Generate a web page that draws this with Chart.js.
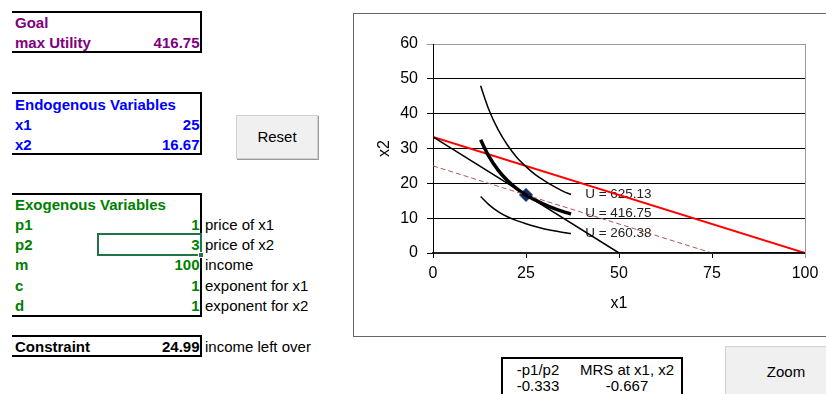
<!DOCTYPE html>
<html lang="en">
<head>
<meta charset="UTF-8">
<title>Utility Maximization</title>
<script src="https://cdn.jsdelivr.net/npm/chart.js"></script>
<style>
    body {
        margin: 0;
        width: 826px;
        height: 394px;
        overflow: hidden;
        position: relative;
        background: #ffffff;
        font-family: 'Liberation Sans', Arial, sans-serif;
    }

    .box {
        position: absolute;
        left: 12px;
        width: 190px;
        box-sizing: border-box;
        border-top: 2px solid #000;
        border-right: 2px solid #000;
        border-bottom: 2px solid #000;
    }

    .cell {
        position: absolute;
        height: 20px;
        line-height: 20px;
        font-size: 15px;
        white-space: nowrap;
    }

    .lbl { left: 15px; font-weight: bold; }
    .val { left: 12px; width: 187.5px; text-align: right; font-weight: bold; }
    .desc { left: 205px; color: #000; }

    .purple { color: #800080; }
    .blue { color: #0000ff; }
    .green { color: #008000; }
    .black { color: #000; }

    .selected {
        position: absolute;
        left: 97px;
        top: 233px;
        width: 105px;
        height: 23px;
        box-sizing: border-box;
        border: 2px solid #217346;
    }

    .handle {
        position: absolute;
        left: 198px;
        top: 252px;
        width: 6px;
        height: 6px;
        box-sizing: border-box;
        background: #217346;
        border: 1px solid #fff;
    }

    .button {
        position: absolute;
        box-sizing: border-box;
        background: #f0f0f0;
        border: 1px solid #d0d0d0;
        box-shadow: 1px 1px 0 #9a9a9a;
        text-align: center;
        font-size: 15px;
        color: #000;
    }

    .chart-frame {
        position: absolute;
        left: 353px;
        top: 13px;
        width: 490px;
        height: 324px;
        box-sizing: border-box;
        border: 1px solid #666;
    }

    #chart {
        position: absolute;
        left: 354px;
        top: 14px;
    }

    .mrs {
        position: absolute;
        left: 501px;
        top: 357px;
        width: 182px;
        height: 60px;
        box-sizing: border-box;
        border: 2px solid #000;
    }

    .mrs-cell {
        position: absolute;
        height: 18px;
        line-height: 18px;
        font-size: 15px;
        text-align: center;
        color: #000;
    }
</style>
</head>
<body>

    <!-- Goal -->
    <div class="box" style="top:11px; height:42px;"></div>
    <div class="cell lbl purple" style="top:13px;">Goal</div>
    <div class="cell lbl purple" style="top:33px;">max Utility</div>
    <div class="cell val purple" style="top:33px;">416.75</div>

    <!-- Endogenous -->
    <div class="box" style="top:92px; height:63px;"></div>
    <div class="cell lbl blue" style="top:95px;">Endogenous Variables</div>
    <div class="cell lbl blue" style="top:115px;">x1</div>
    <div class="cell val blue" style="top:115px;">25</div>
    <div class="cell lbl blue" style="top:135px;">x2</div>
    <div class="cell val blue" style="top:135px;">16.67</div>

    <div class="button" style="left:236px; top:115px; width:82px; height:44px; line-height:42px;">Reset</div>

    <!-- Exogenous -->
    <div class="box" style="top:193px; height:124px;"></div>
    <div class="selected"></div>
    <div class="cell lbl green" style="top:195px;">Exogenous Variables</div>
    <div class="cell lbl green" style="top:215px;">p1</div>
    <div class="cell val green" style="top:215px;">1</div>
    <div class="cell desc" style="top:215px;">price of x1</div>
    <div class="cell lbl green" style="top:235px;">p2</div>
    <div class="cell val green" style="top:235px;">3</div>
    <div class="cell desc" style="top:235px;">price of x2</div>
    <div class="cell lbl green" style="top:255px;">m</div>
    <div class="cell val green" style="top:255px;">100</div>
    <div class="cell desc" style="top:255px;">income</div>
    <div class="cell lbl green" style="top:276px;">c</div>
    <div class="cell val green" style="top:276px;">1</div>
    <div class="cell desc" style="top:276px;">exponent for x1</div>
    <div class="cell lbl green" style="top:296px;">d</div>
    <div class="cell val green" style="top:296px;">1</div>
    <div class="cell desc" style="top:296px;">exponent for x2</div>
    <div class="handle"></div>

    <!-- Constraint -->
    <div class="box" style="top:335px; height:22px;"></div>
    <div class="cell lbl black" style="top:337px;">Constraint</div>
    <div class="cell val black" style="top:337px;">24.99</div>
    <div class="cell desc" style="top:337px;">income left over</div>

    <!-- Chart -->
    <div class="chart-frame"></div>
    <canvas id="chart" width="472" height="321"></canvas>

    <!-- MRS -->
    <div class="mrs"></div>
    <div class="mrs-cell" style="left:503px; width:70px; top:361px;">-p1/p2</div>
    <div class="mrs-cell" style="left:573px; width:108px; top:361px;">MRS at x1, x2</div>
    <div class="mrs-cell" style="left:503px; width:70px; top:377px;">-0.333</div>
    <div class="mrs-cell" style="left:573px; width:108px; top:377px;">-0.667</div>

    <div class="button" style="left:725px; top:346px; width:122px; height:60px; line-height:49px;">Zoom</div>

<script>
    // Budget line p1*x1 + p2*x2 = m
    const budgetX = [0, 100];
    const budgetY = [33.33, 0];

    // Dashed parallel line through the optimum
    const dashX = [0, 75];
    const dashY = [25, 0];

    // Tangent (MRS) line
    const tangentX = [0, 50, 100];
    const tangentY = [33.33, 0, 0];

    // Indifference curves
    const curveX = [12.8, 15, 17.5, 20, 22.5, 25, 27.5, 30, 32.5, 35, 37.1];
    const upperY = [48.0, 41.2, 35.4, 31.0, 27.5, 24.8, 22.5, 20.7, 19.1, 17.7, 16.8];
    const optimalY = [32.5, 27.8, 23.8, 20.8, 18.5, 16.67, 15.2, 13.9, 12.8, 11.9, 11.2];
    const lowerY = [16.2, 13.9, 11.9, 10.4, 9.3, 8.4, 7.6, 6.9, 6.4, 5.9, 5.6];

    // Optimum bundle
    const optX = [25];
    const optY = [16.67];

    // Curve labels
    const curveLabels = ['U = 625.13', 'U = 416.75', 'U = 260.38'];
    const curveLabelX = [40.9, 40.9, 40.9];
    const curveLabelY = [16.9, 11.4, 5.7];

    const xTicks = [0, 25, 50, 75, 100];
    const yTicks = [0, 10, 20, 30, 40, 50, 60];

    function pts(xs, ys) {
        return xs.map((x, i) => ({ x: x, y: ys[i] }));
    }

    Chart.defaults.font.family = "'Liberation Sans', Arial, sans-serif";

    // Labels next to the curves, plus the grey plot border on the right
    const curveLabelPlugin = {
        id: 'curveLabels',
        beforeDatasetsDraw(chart) {
            const ctx = chart.ctx;
            const sx = chart.scales.x, sy = chart.scales.y;
            ctx.save();
            ctx.font = "13.5px 'Liberation Sans', Arial, sans-serif";
            ctx.fillStyle = '#222';
            ctx.textAlign = 'left';
            ctx.textBaseline = 'middle';
            curveLabels.forEach((t, i) => {
                ctx.fillText(t, sx.getPixelForValue(curveLabelX[i]), sy.getPixelForValue(curveLabelY[i]));
            });
            const a = chart.chartArea;
            ctx.strokeStyle = '#999';
            ctx.lineWidth = 1;
            ctx.beginPath();
            ctx.moveTo(Math.round(a.right) + 0.5, a.top);
            ctx.lineTo(Math.round(a.right) + 0.5, a.bottom + 5);
            ctx.stroke();
            ctx.restore();
        }
    };

    new Chart(document.getElementById('chart'), {
        type: 'scatter',
        data: {
            datasets: [
                { data: pts(curveX, upperY), showLine: true, borderColor: '#000', borderWidth: 1.5, pointRadius: 0, cubicInterpolationMode: 'monotone' },
                { data: pts(curveX, lowerY), showLine: true, borderColor: '#000', borderWidth: 1.5, pointRadius: 0, cubicInterpolationMode: 'monotone' },
                { data: pts(tangentX, tangentY), showLine: true, borderColor: '#000', borderWidth: 1.5, pointRadius: 0 },
                { data: pts(dashX, dashY), showLine: true, borderColor: '#b05555', borderWidth: 1, borderDash: [5, 3], pointRadius: 0 },
                { data: pts(curveX, optimalY), showLine: true, borderColor: '#000', borderWidth: 3.5, pointRadius: 0, cubicInterpolationMode: 'monotone' },
                { data: pts(budgetX, budgetY), showLine: true, borderColor: '#ff0000', borderWidth: 2, pointRadius: 0 },
                { data: pts(optX, optY), showLine: false, pointStyle: 'rectRot', pointRadius: 6.5, backgroundColor: '#0f2c6c', borderColor: '#0f2c6c' }
            ]
        },
        options: {
            responsive: false,
            animation: false,
            devicePixelRatio: 1,
            layout: { padding: { top: 30, right: 21, left: 0, bottom: 0 } },
            plugins: {
                legend: { display: false },
                tooltip: { enabled: false }
            },
            scales: {
                x: {
                    type: 'linear',
                    min: 0,
                    max: 100,
                    afterBuildTicks: s => { s.ticks = xTicks.map(v => ({ value: v })); },
                    afterFit: s => { s.height = 82; },
                    ticks: { color: '#000', font: { size: 16 }, padding: 6 },
                    grid: { drawOnChartArea: false, drawTicks: true, tickLength: 5, color: '#000' },
                    border: { color: '#222', width: 2 },
                    title: { display: true, text: 'x1', color: '#000', font: { size: 16 }, padding: { top: 0, bottom: 22 } }
                },
                y: {
                    type: 'linear',
                    min: 0,
                    max: 60,
                    afterBuildTicks: s => { s.ticks = yTicks.map(v => ({ value: v })); },
                    afterFit: s => { s.width = 79; },
                    ticks: { color: '#000', font: { size: 16 }, padding: 9 },
                    grid: { color: c => (c.tick && c.tick.value === 60 ? '#999' : '#000'), tickLength: 6 },
                    border: { color: '#000', width: 1 },
                    title: { display: true, text: 'x2', color: '#000', font: { size: 16 }, padding: { top: 21, bottom: 0 } }
                }
            }
        },
        plugins: [curveLabelPlugin]
    });
</script>

</body>
</html>
